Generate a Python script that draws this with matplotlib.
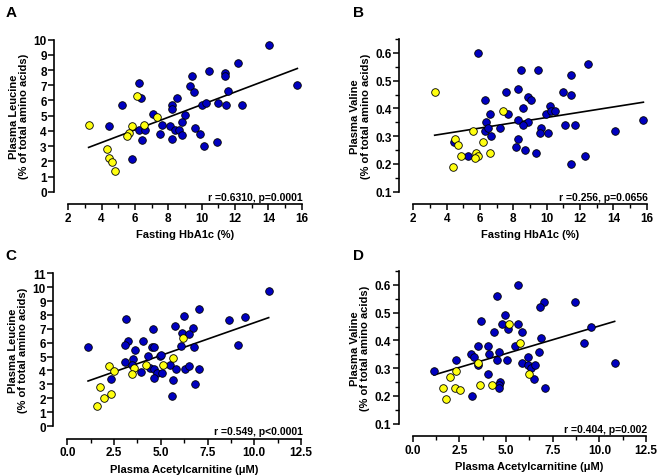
import numpy as np
import matplotlib
matplotlib.use("Agg")
import matplotlib.pyplot as plt
from matplotlib.ticker import MultipleLocator

plt.rcParams['font.family'] = ['Liberation Sans', 'DejaVu Sans']
plt.rcParams['font.weight'] = 'bold'

# ---------------- Data ----------------
# Panel A: HbA1c vs Leucine
A_blue_x = [14.02, 12.2, 10.44, 9.42, 11.4, 11.4, 6.22, 15.74, 9.32, 9.52, 11.6, 8.52, 6.34, 5.2,
            8.2, 8.2, 10.0, 10.24, 11.0, 11.44, 12.42, 7.1, 9.02, 8.8, 7.62, 4.42, 8.12, 8.4, 8.64,
            9.62, 6.22, 6.62, 9.92, 7.52, 8.8, 6.42, 8.22, 10.12, 10.92, 5.82]
A_blue_y = [9.67, 8.44, 7.92, 7.63, 7.8, 7.63, 7.15, 7.04, 6.95, 6.58, 6.64, 6.14, 6.14, 5.68,
            5.7, 5.42, 5.7, 5.81, 5.81, 5.68, 5.68, 5.11, 5.04, 4.56, 4.41, 4.3, 4.3, 4.08, 4.08,
            4.19, 4.04, 4.04, 3.82, 3.79, 3.75, 3.4, 3.46, 2.98, 3.25, 2.13]
A_yel_x = [3.22, 6.12, 7.32, 5.82, 6.52, 5.62, 5.52, 4.32, 4.42, 4.62, 4.82]
A_yel_y = [4.41, 6.29, 4.89, 4.30, 4.41, 3.86, 3.68, 2.79, 2.24, 1.95, 1.38]

# Panel B: HbA1c vs Valine
B_blue_x = [5.88, 8.48, 9.48, 12.48, 11.48, 6.28, 7.58, 8.28, 8.88, 9.08, 10.98, 11.48, 10.18,
            8.58, 6.58, 7.68, 9.98, 10.28, 10.48, 6.38, 6.28, 6.48, 8.28, 8.88, 8.58, 7.18, 9.68,
            6.68, 9.58, 10.08, 11.08, 11.68, 14.08, 8.28, 8.18, 8.68, 9.38, 5.28, 11.48, 12.28,
            15.8, 4.46]
B_blue_y = [0.60, 0.54, 0.54, 0.56, 0.52, 0.43, 0.46, 0.47, 0.44, 0.43, 0.46, 0.45, 0.41,
            0.40, 0.38, 0.38, 0.38, 0.39, 0.39, 0.35, 0.32, 0.33, 0.36, 0.35, 0.34, 0.33, 0.33,
            0.30, 0.31, 0.31, 0.34, 0.34, 0.32, 0.29, 0.26, 0.25, 0.24, 0.23, 0.20, 0.23,
            0.36, 0.28]
B_yel_x = [3.28, 7.38, 5.58, 4.48, 4.68, 6.18, 4.88, 5.78, 5.88, 5.68, 6.58, 4.38]
B_yel_y = [0.46, 0.39, 0.32, 0.29, 0.27, 0.28, 0.23, 0.24, 0.23, 0.22, 0.24, 0.19]

# Panel C: Acetylcarnitine vs Leucine
C_blue_x = [10.77, 7.03, 6.22, 3.16, 8.63, 9.49, 5.78, 4.58, 6.7, 6.13, 6.53, 3.25, 4.05, 3.1,
            1.11, 4.51, 4.62, 6.10, 6.78, 9.13, 3.60, 4.32, 4.94, 5.03, 3.07, 3.51, 5.47, 4.44,
            4.62, 3.46, 3.96, 5.81, 6.28, 6.53, 7.03, 4.80, 5.06, 4.62, 2.32, 5.63, 6.85, 5.58]
C_blue_y = [9.71, 8.46, 7.96, 7.69, 7.64, 7.84, 7.21, 7.0, 7.07, 6.71, 6.61, 6.15, 6.15, 5.84,
            5.72, 5.70, 5.70, 5.77, 5.70, 5.87, 5.48, 5.07, 5.07, 5.12, 4.62, 4.83, 4.42, 4.21,
            4.09, 4.40, 3.87, 4.09, 4.09, 4.35, 4.11, 3.80, 3.80, 3.49, 3.41, 3.29, 3.03, 2.16]
C_yel_x = [6.17, 5.65, 5.12, 4.23, 3.55, 3.46, 2.21, 2.51, 1.77, 2.32, 1.96, 1.60]
C_yel_y = [6.32, 4.88, 4.40, 4.40, 4.18, 3.73, 4.33, 3.94, 2.84, 2.31, 2.00, 1.42]

# Panel D: Acetylcarnitine vs Valine
D_blue_x = [5.63, 4.54, 7.05, 8.70, 6.80, 4.95, 3.64, 4.77, 5.66, 5.11, 5.84, 4.34, 9.54, 6.89,
            3.50, 4.02, 5.5, 9.2, 3.11, 4.07, 4.64, 6.77, 3.29, 4.52, 5.05, 6.16, 3.52, 5.84,
            6.16, 6.34, 6.57, 10.82, 1.14, 2.34, 4.05, 6.52, 4.70, 4.64, 4.64, 7.07, 3.2]
D_blue_y = [0.60, 0.56, 0.54, 0.54, 0.52, 0.49, 0.47, 0.46, 0.46, 0.44, 0.43, 0.43, 0.45, 0.41,
            0.38, 0.38, 0.38, 0.39, 0.35, 0.35, 0.36, 0.36, 0.34, 0.33, 0.33, 0.34, 0.31, 0.32,
            0.31, 0.30, 0.31, 0.32, 0.29, 0.33, 0.28, 0.26, 0.25, 0.24, 0.23, 0.23, 0.20]
D_yel_x = [5.16, 5.73, 3.48, 6.21, 2.34, 1.98, 1.63, 2.25, 2.55, 1.79, 3.61, 4.27]
D_yel_y = [0.46, 0.39, 0.32, 0.28, 0.29, 0.27, 0.23, 0.23, 0.22, 0.19, 0.24, 0.24]

panel_letters = ['A', 'B', 'C', 'D']
x_labels = ['Fasting HbA1c (%)', 'Fasting HbA1c (%)',
            'Plasma Acetylcarnitine (\u03bcM)', 'Plasma Acetylcarnitine (\u03bcM)']
y_labels = ['Plasma Leucine\n(% of total amino acids)', 'Plasma Valine\n(% of total amino acids)',
            'Plasma Leucine\n(% of total amino acids)', 'Plasma Valine\n(% of total amino acids)']
stats_text = ['r =0.6310, p=0.0001', 'r =0.256, p=0.0656',
              'r =0.549, p<0.0001', 'r =0.404, p=0.002']

BLUE = '#0000c0'
YELLOW = '#ffff10'

fig = plt.figure(figsize=(6.61, 4.77), dpi=100)

# axes rectangles (fig fraction)
rects = [
    [0.1033, 0.596, 0.3531, 0.3187],
    [0.6253, 0.596, 0.3531, 0.3200],
    [0.1018, 0.1048, 0.3536, 0.3201],
    [0.6243, 0.1096, 0.3530, 0.3200],
]
data = [
    (A_blue_x, A_blue_y, A_yel_x, A_yel_y),
    (B_blue_x, B_blue_y, B_yel_x, B_yel_y),
    (C_blue_x, C_blue_y, C_yel_x, C_yel_y),
    (D_blue_x, D_blue_y, D_yel_x, D_yel_y),
]
xlims = [(2, 16), (2, 16), (0, 12.5), (0, 12.5)]
ylims = [(0, 10), (0.1, 0.65), (0, 11), (0.1, 0.65)]
xmaj = [2, 2, 2.5, 2.5]
xmin_ = [1, 1, 1.25, 1.25]
ymaj = [1, 0.1, 1, 0.1]
ymin_ = [1, 0.05, 1, 0.05]
letter_pos = [(0.008, 0.987), (0.534, 0.987), (0.008, 0.477), (0.534, 0.477)]

for i in range(4):
    ax = fig.add_axes(rects[i])
    bx, by, yx, yy = data[i]
    allx = np.array(list(bx) + list(yx))
    ally = np.array(list(by) + list(yy))
    slope, icpt = np.polyfit(allx, ally, 1)
    xs = np.array([allx.min(), allx.max()])
    ax.plot(xs, slope * xs + icpt, color='black', lw=1.2, zorder=2, clip_on=False)
    ax.scatter(bx, by, s=30, c=BLUE, edgecolors='black', linewidths=0.6, zorder=3, clip_on=False)
    ax.scatter(yx, yy, s=30, c=YELLOW, edgecolors='black', linewidths=0.6, zorder=4, clip_on=False)
    ax.set_xlim(*xlims[i])
    ax.set_ylim(*ylims[i])
    for s in ['top', 'right']:
        ax.spines[s].set_visible(False)
    ax.spines['left'].set_position(('outward', 10))
    ax.spines['bottom'].set_position(('outward', 9))
    for s in ['left', 'bottom']:
        ax.spines[s].set_linewidth(1.2)
    ax.xaxis.set_major_locator(MultipleLocator(xmaj[i]))
    ax.xaxis.set_minor_locator(MultipleLocator(xmin_[i]))
    ax.yaxis.set_major_locator(MultipleLocator(ymaj[i]))
    ax.yaxis.set_minor_locator(MultipleLocator(ymin_[i]))
    ax.tick_params(which='major', length=4, width=1.1, labelsize=8.5, pad=1.5)
    ax.tick_params(which='minor', length=3, width=1.0)
    if i in (2, 3):
        ax.xaxis.set_major_formatter(matplotlib.ticker.FormatStrFormatter('%.1f'))
    if i in (1, 3):
        ax.yaxis.set_major_formatter(matplotlib.ticker.FormatStrFormatter('%.1f'))
    for lab in ax.get_xticklabels() + ax.get_yticklabels():
        lab.set_fontweight('bold')
    ax.set_xlabel(x_labels[i], fontsize=8, fontweight='bold', labelpad=4)
    ax.set_ylabel(y_labels[i], fontsize=8, fontweight='bold', labelpad=3, linespacing=1.1)
    ax.annotate(stats_text[i], xy=(1, 0), xycoords='axes fraction', xytext=(1, -6),
                textcoords='offset points', ha='right', va='baseline', fontsize=7.5,
                fontweight='bold', annotation_clip=False)
    fig.text(letter_pos[i][0], letter_pos[i][1], panel_letters[i], fontsize=11,
             fontweight='bold', ha='left', va='top')

fig.savefig('out.png', dpi=100)
